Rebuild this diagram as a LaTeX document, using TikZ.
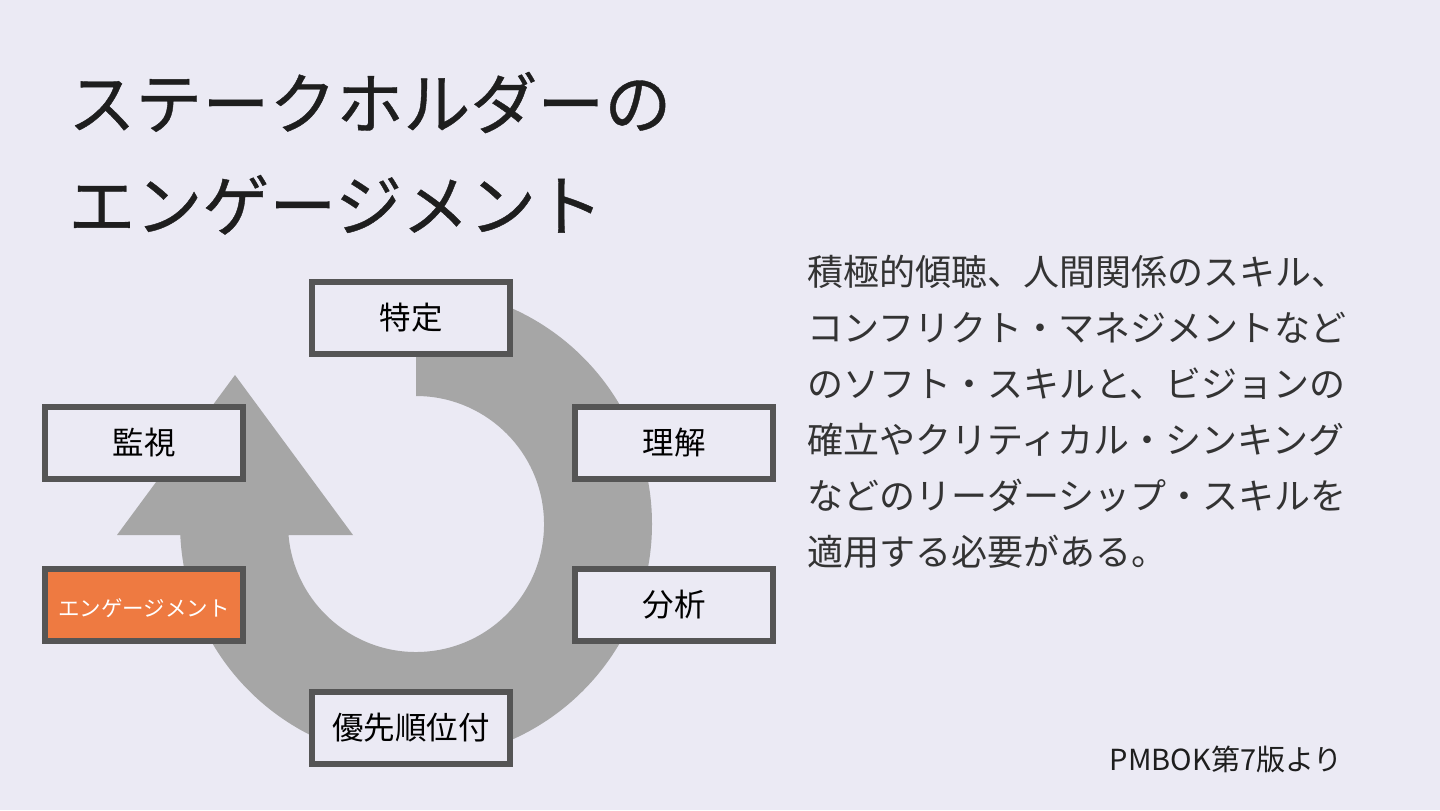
\documentclass[tikz,border=0pt]{standalone}
\usepackage{fontspec}
\setmainfont{Noto Sans CJK JP}
\newfontfamily\titlefont[FakeBold=0.6]{Noto Sans CJK JP}
\definecolor{bgc}{HTML}{EBEAF4}
\definecolor{ringgray}{HTML}{A6A6A6}
\definecolor{bordergray}{HTML}{555555}
\definecolor{engorange}{HTML}{EE7A41}
\definecolor{titletext}{HTML}{1E1E1E}
\definecolor{bodytext}{HTML}{333333}
\begin{document}
\begin{tikzpicture}[x=0.5pt,y=-0.5pt,
  stagebox/.style={draw=bordergray, line width=3pt, fill=bgc, minimum width=99pt, minimum height=36pt,
    inner sep=0pt, text height=1.26em, text depth=0.12em, font=\fontsize{15.75}{18}\selectfont, text=black},
  engbox/.style={stagebox, fill=engorange, text=white, font=\fontsize{10.75}{13}\selectfont},
  titleline/.style={anchor=west, inner sep=0pt, text height=0.88em, text depth=0.12em,
    font=\titlefont\fontsize{33.5}{40}\selectfont, text=titletext},
  bodyline/.style={anchor=west, inner sep=0pt, text height=0.88em, text depth=0.12em,
    font=\fontsize{18}{28}\selectfont, text=bodytext},
  notetext/.style={anchor=east, inner sep=0pt, text height=0.88em, text depth=0.12em,
    font=\fontsize{14.5}{17}\selectfont, text=titletext}]
\useasboundingbox (0,0) rectangle (1440,810);
\fill[bgc] (0,0) rectangle (1440,810);

% title
\node[titleline] (t1) at (68,121) {ステークホルダーの};
\node[titleline] (t2) at (68,223) {エンゲージメント};

% circular arrow
\fill[ringgray] (416,288) arc[start angle=-90,end angle=177.3,radius=236]
  -- (117,535) -- (235,375) -- (353,535) -- (288.5,535)
  arc[start angle=175.07,end angle=-90,radius=128] -- cycle;

% stages
\node[stagebox] (identify) at (411,318) {特定};
\node[stagebox] (understand) at (674,443) {理解};
\node[stagebox] (analyze) at (674,605) {分析};
\node[stagebox] (prioritize) at (411,728) {優先順位付};
\node[engbox] (engage) at (144,605) {エンゲージメント};
\node[stagebox] (monitor) at (144,443) {監視};

% body text
\node[bodyline] (b1) at (807,278) {積極的傾聴、人間関係のスキル、};
\node[bodyline] (b2) at (807,334) {コンフリクト・マネジメントなど};
\node[bodyline] (b3) at (807,390) {のソフト・スキルと、ビジョンの};
\node[bodyline] (b4) at (807,446) {確立やクリティカル・シンキング};
\node[bodyline] (b5) at (807,502) {などのリーダーシップ・スキルを};
\node[bodyline] (b6) at (807,558) {適用する必要がある。};

\node[notetext] (note) at (1343,763) {PMBOK第7版より};
\end{tikzpicture}
\end{document}
